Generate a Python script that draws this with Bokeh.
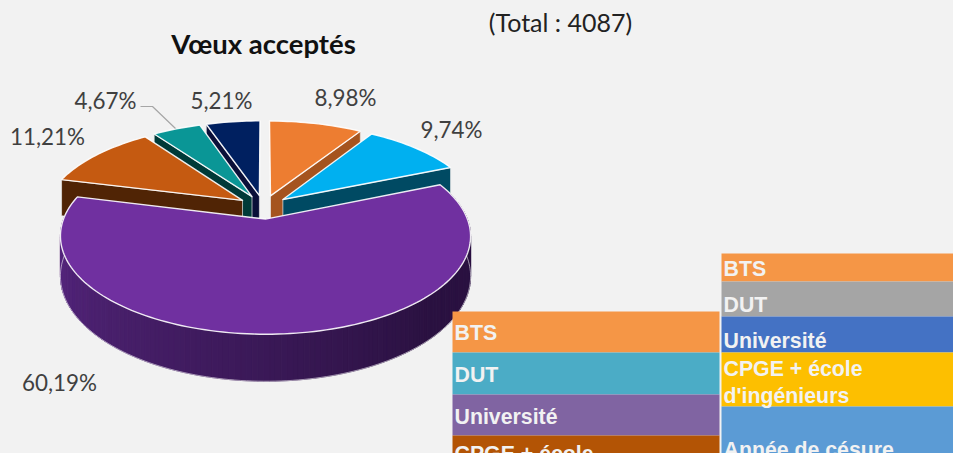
import numpy as np
from bokeh.plotting import figure
from bokeh.models import Range1d
from bokeh.core.properties import value
from bokeh.embed import file_html
from bokeh.resources import INLINE

# ---- data
slice_names = ["BTS", "DUT", "Université", "CPGE + école d'ingénieurs", "Année de césure", "Autre"]
slice_shares = [8.98, 9.74, 60.19, 11.21, 4.67, 5.21]
slice_labels = ["8,98%", "9,74%", "60,19%", "11,21%", "4,67%", "5,21%"]
slice_top_colors = ["#ED7D31", "#00B0F0", "#7030A0", "#C55A11", "#0A9696", "#002060"]
slice_wall_colors = ["#A5541F", "#004A63", "#4A2070", "#502405", "#003A38", "#0A0F38"]
left_rows = ["BTS", "DUT", "Université", "CPGE + école"]
left_colors = ["#F59646", "#4BACC6", "#8064A2", "#B35405"]
right_rows = ["BTS", "DUT", "Université", "CPGE + école\nd'ingénieurs", "Année de césure"]
right_colors = ["#F59646", "#A5A5A5", "#4472C4", "#FDBF00", "#5B9BD5"]

# ---- layout (page pixels)
W, H = 953, 453
p = figure(width=W, height=H, x_range=Range1d(0, W), y_range=Range1d(H, 0),
           output_backend="svg", toolbar_location=None, min_border=0,
           background_fill_color="#F2F2F2", border_fill_color="#F2F2F2", outline_line_color=None)
p.axis.visible = False
p.grid.visible = False

X0, Y0, A, B, K, THICK, EXPL = 263, 206.5, 91, 197.5, 0.17, 38, 0.13


def project(u, v, z=0.0):
    d = 1 + K * v
    return X0 + B * u / d, Y0 + (-A * v + z * THICK) / d


edges = np.concatenate([[0], np.cumsum(slice_shares)]) / sum(slice_shares) * 2 * np.pi


def pt(theta, off, z=0.0, r=1.0):
    return project(off[0] + r * np.sin(theta), off[1] + r * np.cos(theta), z)


BACK_TO_FRONT = [5, 4, 3, 0, 1, 2]
WALL_EDGE = {0: 1, 1: 1, 3: 0, 4: 0, 5: 0}
for i in BACK_TO_FRONT:
    a0, a1 = edges[i], edges[i + 1]
    mid = (a0 + a1) / 2
    off = (EXPL * np.sin(mid), EXPL * np.cos(mid))
    th = np.linspace(a0, a1, max(8, int((a1 - a0) * 40)))
    if i in WALL_EDGE:
        e = a1 if WALL_EDGE[i] else a0
        x1, y1 = project(off[0], off[1])
        x2, y2 = pt(e, off)
        x3, y3 = pt(e, off, 1)
        x4, y4 = project(off[0], off[1], 1)
        p.patch([x1, x2, x3, x4], [y1, y2, y3, y4], fill_color=slice_wall_colors[i],
                line_color="#E8E8E8", line_width=0.7)
    else:
        # front rim of the large slice, shaded from left to right
        t = np.linspace(a1, a0, 160)
        xs, ys, cs = [], [], []
        c_left, c_right = np.array([0x5E, 0x2A, 0x8A]), np.array([0x2A, 0x11, 0x40])
        for j in range(len(t) - 1):
            x_a, y_a = pt(t[j], off)
            x_b, y_b = pt(t[j + 1], off)
            x_c, y_c = pt(t[j + 1], off, 1)
            x_d, y_d = pt(t[j], off, 1)
            xs.append([x_a, x_b, x_c, x_d])
            ys.append([y_a, y_b, y_c, y_d])
            f = min(1.0, j / (len(t) - 2) / 0.7)
            c = c_left + (c_right - c_left) * f
            cs.append("#%02x%02x%02x" % tuple(int(v) for v in c))
        p.patches(xs, ys, fill_color=cs, line_color=cs, line_width=1)
        bx, by = pt(t, off, 1)
        p.line(bx, by, line_color="#FFFFFF", line_alpha=0.55, line_width=1)
    ax, ay = pt(th, off)
    cx, cy = project(off[0], off[1])
    p.patch(np.r_[cx, ax], np.r_[cy, ay], fill_color=slice_top_colors[i],
            line_color="#FFFFFF", line_alpha=0.9, line_width=1.4, line_join="round")

# ---- leader line of the 4,67% label
p.line([140, 152, 175], [106, 106, 128], line_color="#A6A6A6", line_width=1.2)

# ---- data labels
label_x = [345, 451, 59, 47, 105, 221]
label_y = [97, 129, 382, 136, 100, 100]
p.text(label_x, label_y, text=slice_labels, text_font=value("Lato"), text_font_size="22.4px",
       text_color="#404040", text_align="center", text_baseline="middle")

# ---- titles
p.text([263], [43], text=["Vœux acceptés"], text_font=value("Lato"), text_font_style="bold",
       text_font_size="27.5px", text_color="#111111", text_align="center", text_baseline="middle")
p.text([560], [21], text=["(Total : 4087)"], text_font=value("Lato"), text_font_size="25px",
       text_color="#222222", text_align="center", text_baseline="middle")

# ---- the two table fragments
left_edges = [311, 352, 394, 435, 480]
right_edges = [253, 281, 316, 352, 406, 480]
p.quad(left=452, right=719, top=left_edges[:-1], bottom=left_edges[1:], fill_color=left_colors, line_color=None)
p.quad(left=721, right=W + 2, top=right_edges[:-1], bottom=right_edges[1:], fill_color=right_colors, line_color=None)

left_text_y = [332, 374, 416, 453]
right_text_y = [268, 304, 340, 382, 449]
common = dict(text_font=value("Liberation Sans"), text_font_style="bold", text_font_size="21.3px",
              text_color="#F2F2F2", text_align="left", text_baseline="middle", text_line_height=1.15)
p.text([454] * len(left_rows), left_text_y, text=left_rows, **common)
p.text([723] * len(right_rows), right_text_y, text=right_rows, **common)

html = file_html(p, INLINE)
html = html.replace("<head>", "<head><style>html,body{background:#F2F2F2;overflow:hidden}</style>", 1)
open("out.html", "w").write(html)
